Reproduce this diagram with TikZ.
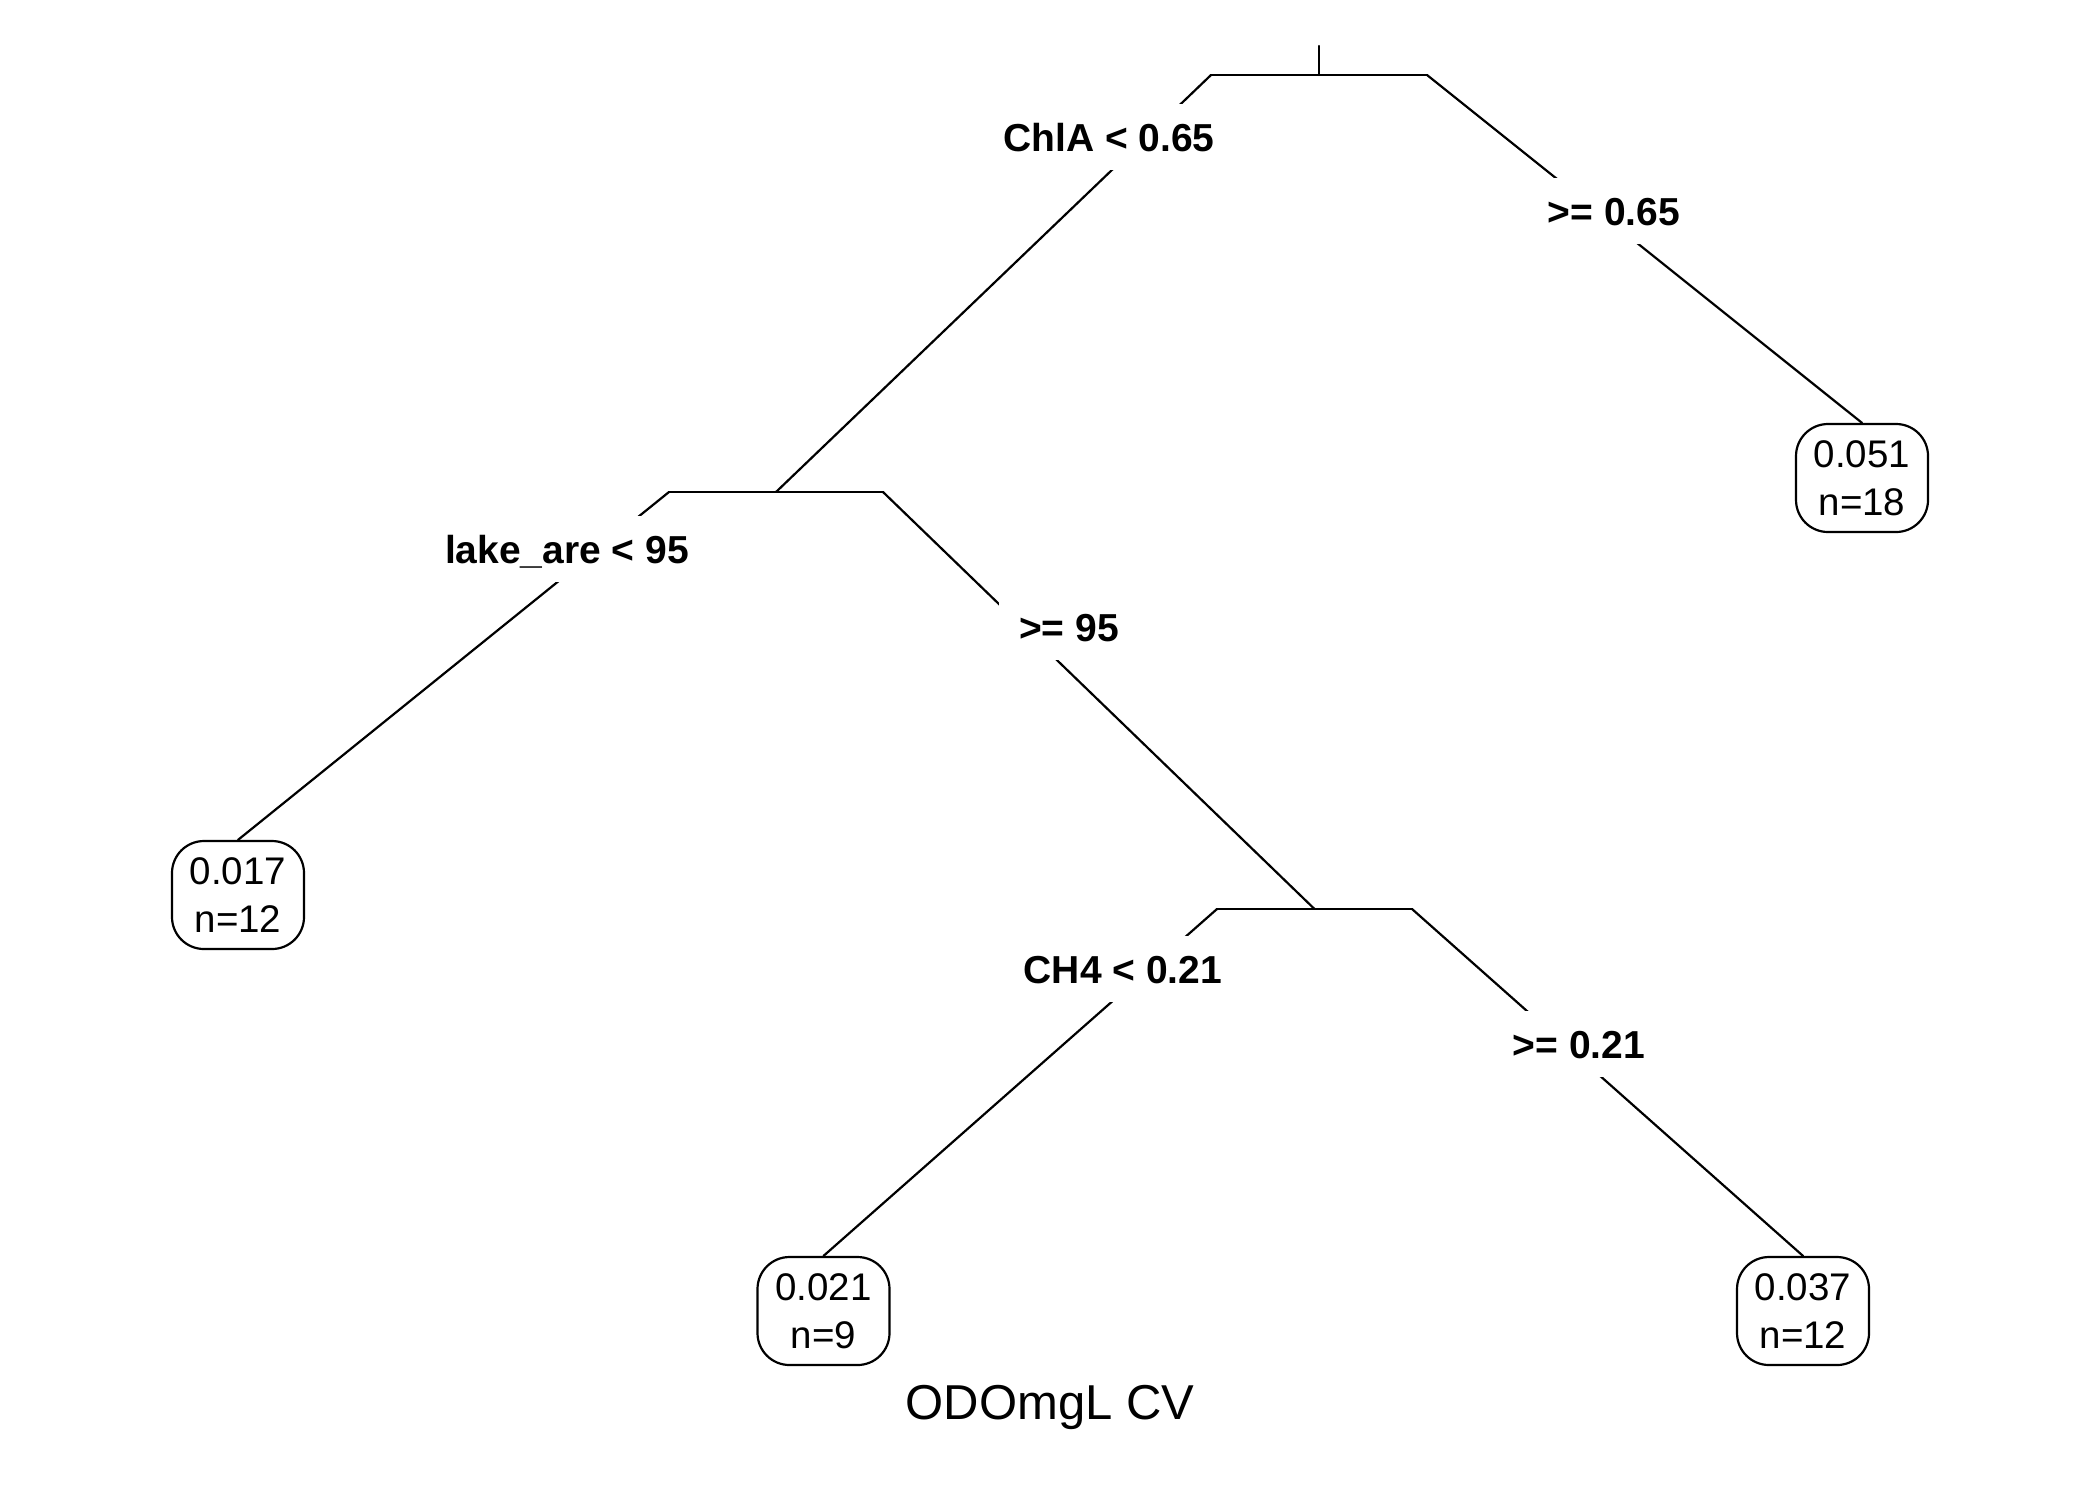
\documentclass[tikz,border=0pt]{standalone}
\usepackage{fontspec}
\setmainfont{Liberation Sans}
\begin{document}
\begin{tikzpicture}[x=1pt,y=-1pt,
  line width=2.2pt, line cap=round, line join=round,
  leaf/.style={draw, rounded corners=32pt, minimum width=132pt, minimum height=108pt, inner sep=0pt, align=center, font=\fontsize{38.5}{48}\selectfont},
  lbl/.style={fill=white, inner xsep=20pt, inner ysep=0pt, text height=28pt, text depth=0pt, minimum height=66pt, font=\fontsize{39}{46}\selectfont\bfseries},
  ttl/.style={font=\fontsize{49}{58}\selectfont, inner sep=0pt, text height=35pt, text depth=0pt}]
\useasboundingbox[fill=white] (0,0) rectangle (2100,1500);
% leaves
\node[leaf] (l1) at (1862,478) {0.051\\n=18};
\node[leaf] (l2) at (238,895) {0.017\\n=12};
\node[leaf] (l3) at (823.5,1311) {0.021\\n=9};
\node[leaf] (l4) at (1803,1311) {0.037\\n=12};
% split coordinates
\coordinate (top) at (1319,46);
\coordinate (s1) at (1319,75);
\coordinate (s1L) at (1211,75);
\coordinate (s1R) at (1427,75);
\coordinate (s2) at (776,492);
\coordinate (s2L) at (669,492);
\coordinate (s2R) at (883,492);
\coordinate (s3) at (1314.5,909);
\coordinate (s3L) at (1217,909);
\coordinate (s3R) at (1412,909);
% connectors
\draw (top) -- (s1);
\draw (s1L) -- (s1R);
\draw (s1L) -- (s2);
\draw (s1R) -- (l1.north);
\draw (s2L) -- (s2R);
\draw (s2L) -- (l2.north);
\draw (s2R) -- (s3);
\draw (s3L) -- (s3R);
\draw (s3L) -- (l3.north);
\draw (s3R) -- (l4.north);
% labels
\node[lbl] (c1) at (1109,137) {ChlA < 0.65};
\node[lbl] (c1r) at (1614,211) {>= 0.65};
\node[lbl] (c2) at (567,549) {lake\_are < 95};
\node[lbl] (c2r) at (1069,627) {>= 95};
\node[lbl] (c3) at (1123,969) {CH4 < 0.21};
\node[lbl] (c3r) at (1579,1044) {>= 0.21};
\node[ttl] (title) at (1050,1402) {ODOmgL CV};
\end{tikzpicture}
\end{document}
